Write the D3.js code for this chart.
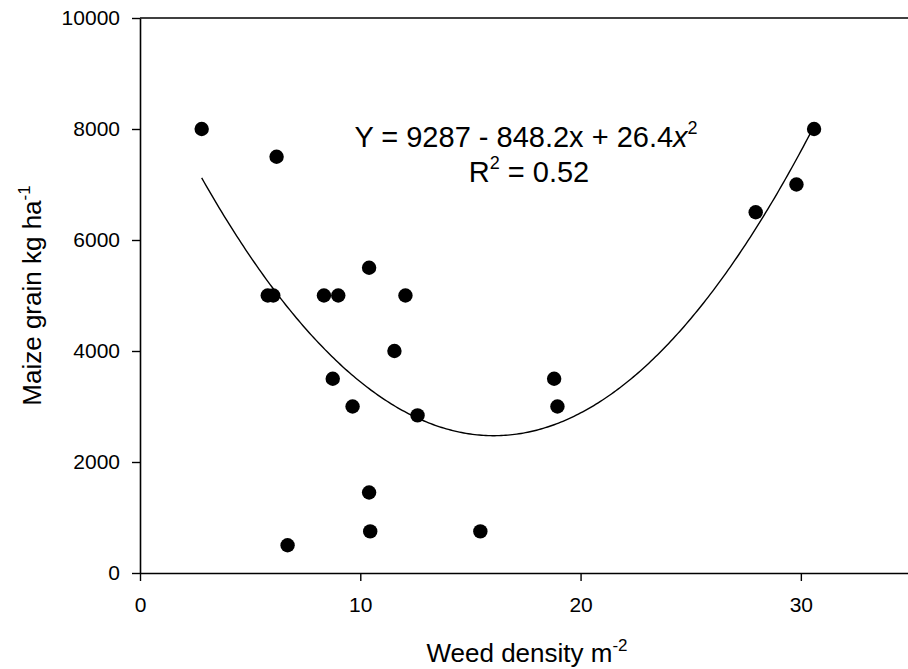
<!DOCTYPE html>
<html lang="en">
<head>
    <meta charset="UTF-8">
    <title>Maize grain vs weed density</title>
    <script src="https://d3js.org/d3.v7.min.js"></script>
    <style>
        body { margin: 0; background: #fff; }
        svg { display: block; font-family: "Liberation Sans", Arial, sans-serif; }
    </style>
</head>
<body>
    <script>
    // weed density (plants m-2) and maize grain yield (kg ha-1)
    const weedDensity = [2.8, 6.2, 5.8, 6.05, 8.35, 9.0, 10.4, 12.05, 11.55, 8.75, 9.65, 12.6,
                         10.4, 10.45, 6.7, 15.45, 18.8, 18.95, 27.95, 29.8, 30.6];
    const grainYield  = [8000, 7500, 5000, 5000, 5000, 5000, 5500, 5000, 4000, 3500, 3000, 2840,
                         1450, 750, 500, 750, 3500, 3000, 6500, 7000, 8000];

    // quadratic fit given on the chart: Y = a + b x + c x^2
    const fitCoef = [9287, -848.2, 26.4];
    const fitRange = [2.8, 30.6];

    const xTicks = [0, 10, 20, 30];
    const yTicks = [0, 2000, 4000, 6000, 8000, 10000];

    const width = 908, height = 669;
    const margin = { left: 140, top: 18, right: -3, bottom: 96 };

    const svg = d3.select("body").append("svg")
      .attr("width", width)
      .attr("height", height);

    const x = d3.scaleLinear().domain([0, 35]).range([margin.left, width - margin.right]);
    const y = d3.scaleLinear().domain([0, 10000]).range([height - margin.bottom, margin.top]);

    // top border (right border falls outside the picture)
    svg.append("line")
      .attr("x1", x(0)).attr("x2", width)
      .attr("y1", y(10000)).attr("y2", y(10000))
      .attr("stroke", "#000").attr("stroke-width", 1.6);

    const xAxis = svg.append("g")
      .attr("transform", `translate(0,${y(0)})`)
      .call(d3.axisBottom(x).tickValues(xTicks).tickFormat(d3.format("d"))
        .tickSize(8).tickSizeOuter(0).tickPadding(16));

    const yAxis = svg.append("g")
      .attr("transform", `translate(${x(0)},0)`)
      .call(d3.axisLeft(y).tickValues(yTicks).tickFormat(d3.format("d"))
        .tickSize(8).tickSizeOuter(0).tickPadding(12));

    [xAxis, yAxis].forEach(g => {
      g.selectAll("path").attr("stroke", "#000").attr("stroke-width", 1.6);
      g.selectAll("line").attr("stroke", "#000").attr("stroke-width", 1.4);
      g.selectAll("text").attr("font-size", 21).attr("fill", "#000")
        .attr("font-family", "'Liberation Sans', Arial, sans-serif");
    });

    // fitted curve
    const fx = v => fitCoef[0] + fitCoef[1] * v + fitCoef[2] * v * v;
    const curveX = d3.range(fitRange[0], fitRange[1], 0.1).concat([fitRange[1]]);
    svg.append("path")
      .datum(curveX)
      .attr("fill", "none")
      .attr("stroke", "#000")
      .attr("stroke-width", 1.4)
      .attr("d", d3.line().x(d => x(d)).y(d => y(fx(d))));

    // points
    svg.append("g")
      .selectAll("circle")
      .data(weedDensity.map((d, i) => [d, grainYield[i]]))
      .join("circle")
      .attr("cx", d => x(d[0]))
      .attr("cy", d => y(d[1]))
      .attr("r", 7.2)
      .attr("fill", "#000");

    // equation
    const eq = svg.append("text")
      .attr("x", 526).attr("y", 147)
      .attr("text-anchor", "middle")
      .attr("font-size", 29);
    eq.append("tspan").text("Y = 9287 - 848.2x + 26.4");
    eq.append("tspan").attr("font-style", "italic").text("x");
    eq.append("tspan").attr("font-size", 18).attr("dy", -13).text("2");

    const r2 = svg.append("text")
      .attr("x", 529).attr("y", 182)
      .attr("text-anchor", "middle")
      .attr("font-size", 29);
    r2.append("tspan").text("R");
    r2.append("tspan").attr("font-size", 18).attr("dy", -13).text("2");
    r2.append("tspan").attr("dy", 13).text(" = 0.52");

    // axis titles
    const xt = svg.append("text")
      .attr("x", 527).attr("y", 662)
      .attr("text-anchor", "middle")
      .attr("font-size", 26);
    xt.append("tspan").text("Weed density m");
    xt.append("tspan").attr("font-size", 17).attr("dy", -11).text("-2");

    const yt = svg.append("text")
      .attr("transform", `translate(41,${(y(0) + y(10000)) / 2}) rotate(-90)`)
      .attr("text-anchor", "middle")
      .attr("font-size", 26);
    yt.append("tspan").text("Maize grain kg ha");
    yt.append("tspan").attr("font-size", 17).attr("dy", -11).text("-1");
    </script>
</body>
</html>
